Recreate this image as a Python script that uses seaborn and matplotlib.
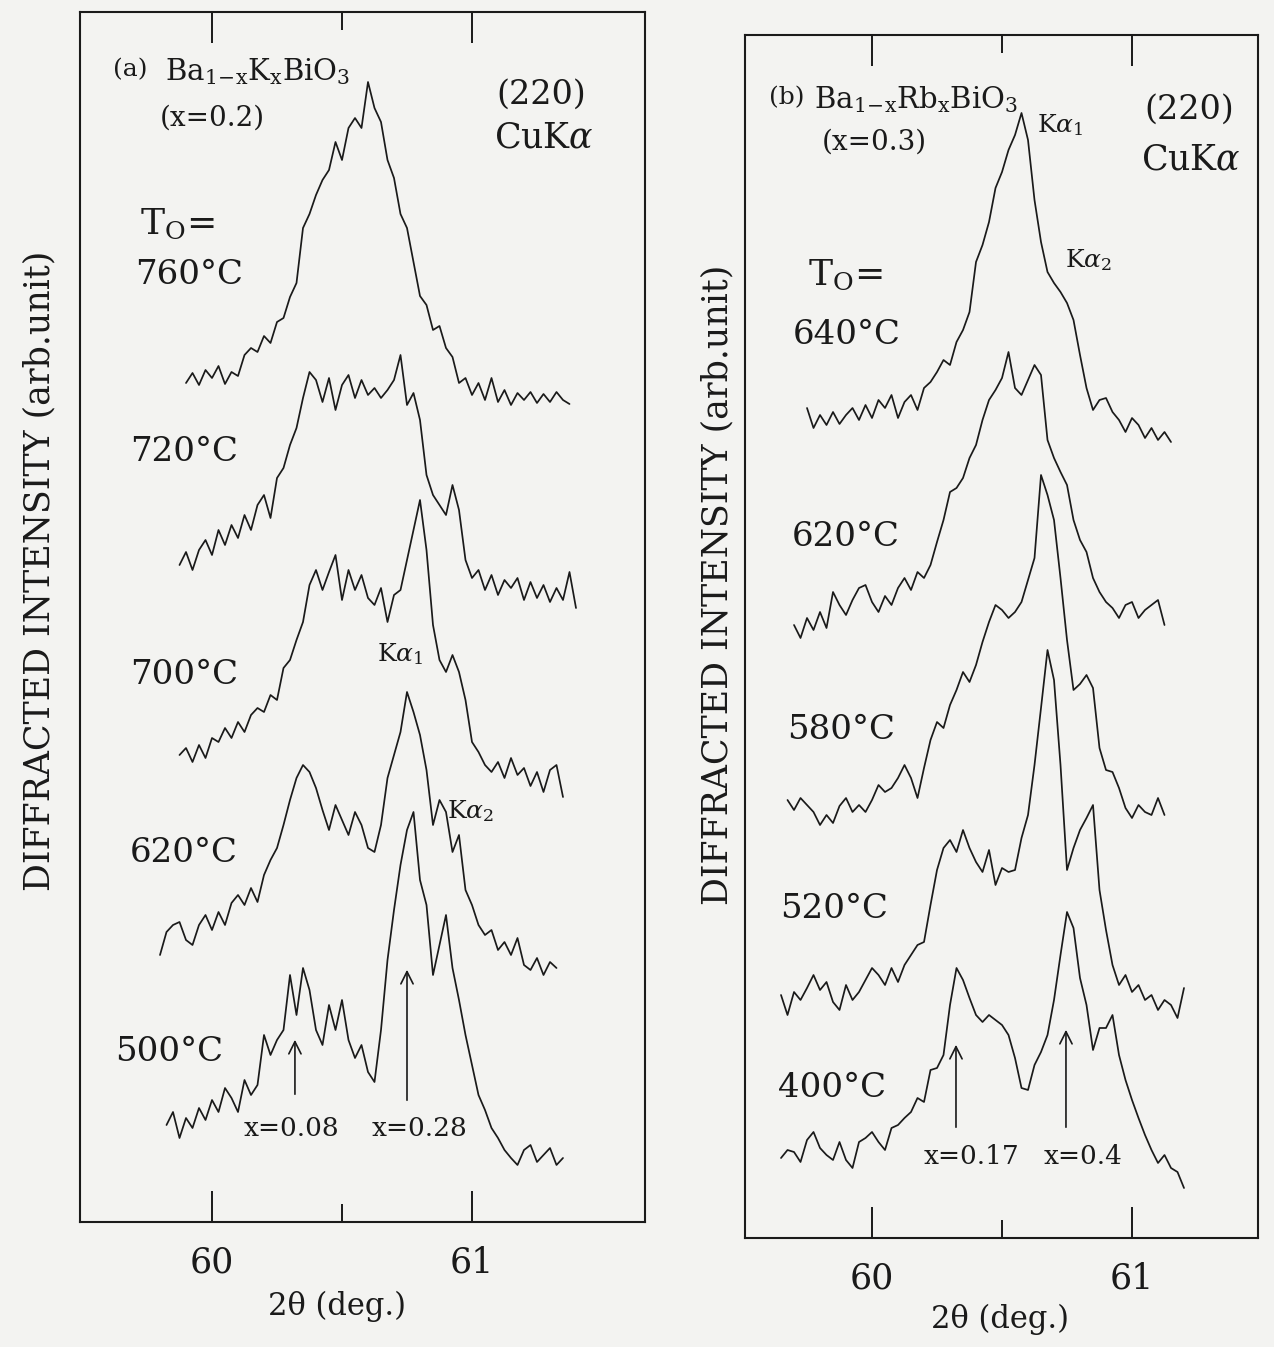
import numpy as np
import pandas as pd
import matplotlib
matplotlib.use("Agg")
import matplotlib.pyplot as plt
import seaborn as sns

nan = np.nan

# ---------------- data ----------------
# 2-theta sampling grid of panel (a), deg.
TWO_THETA_A = [59.800, 59.825, 59.850, 59.875, 59.900, 59.925, 59.950, 59.975,
               60.000, 60.025, 60.050, 60.075, 60.100, 60.125, 60.150, 60.175,
               60.200, 60.225, 60.250, 60.275, 60.300, 60.325, 60.350, 60.375,
               60.400, 60.425, 60.450, 60.475, 60.500, 60.525, 60.550, 60.575,
               60.600, 60.625, 60.650, 60.675, 60.700, 60.725, 60.750, 60.775,
               60.800, 60.825, 60.850, 60.875, 60.900, 60.925, 60.950, 60.975,
               61.000, 61.025, 61.050, 61.075, 61.100, 61.125, 61.150, 61.175,
               61.200, 61.225, 61.250, 61.275, 61.300, 61.325, 61.350, 61.375,
               61.400]

# stacked intensities (arb. unit) of Ba1-xKxBiO3, panel (a)
A_760 = [nan, nan, nan, nan,
         839, 849, 837, 852, 844, 856, 838, 850, 846, 867,
         874, 870, 886, 879, 900, 904, 925, 939, 994, 1008,
         1027, 1042, 1052, 1080, 1062, 1094, 1104, 1094, 1140, 1114,
         1100, 1062, 1044, 1008, 994, 960, 926, 917, 892, 896,
         874, 865, 839, 844, 827, 839, 822, 844, 820, 832,
         817, 829, 822, 830, 819, 828, 820, 830, 822, 818,
         nan]
A_720 = [nan, nan, nan,
         657, 670, 652, 672, 682, 667, 692, 677, 697, 684,
         707, 692, 717, 727, 704, 744, 754, 777, 794, 824,
         850, 842, 820, 844, 812, 837, 847, 824, 842, 827,
         834, 824, 832, 842, 867, 817, 829, 802, 747, 727,
         717, 707, 737, 712, 662, 644, 652, 632, 647, 627,
         642, 634, 644, 622, 640, 624, 637, 620, 634, 622,
         650, 614]
A_700 = [nan, nan, nan,
         467, 474, 460, 477, 464, 484, 480, 494, 484, 500,
         490, 507, 514, 510, 527, 522, 554, 562, 582, 600,
         637, 652, 632, 650, 667, 622, 652, 632, 647, 624,
         617, 634, 600, 627, 632, 662, 692, 722, 672, 597,
         562, 550, 567, 550, 522, 480, 470, 457, 450, 460,
         444, 464, 447, 454, 436, 450, 430, 452, 457, 425,
         nan, nan]
A_620 = [267, 290, 297, 300, 282, 277, 297, 307, 292, 310,
         297, 319, 327, 317, 334, 320, 347, 362, 374, 397,
         422, 444, 457, 450, 434, 412, 392, 417, 402, 387,
         410, 397, 374, 370, 397, 444, 467, 490, 530, 510,
         487, 452, 397, 422, 410, 370, 387, 332, 317, 297,
         287, 292, 272, 280, 267, 284, 257, 252, 264, 247,
         260, 254,
         nan, nan, nan]
A_500 = [nan,
         97, 110, 84, 104, 94, 114, 102, 122, 110, 134,
         124, 110, 142, 127, 137, 187, 167, 182, 192, 247,
         207, 254, 232, 192, 177, 217, 192, 222, 182, 164,
         177, 150, 140, 192, 262, 312, 357, 392, 410, 342,
         317, 247, 277, 307, 254, 222, 187, 157, 127, 112,
         94, 84, 72, 64, 57, 72, 77, 60, 67, 74,
         57, 64,
         nan, nan]
CURVES_A = {"760": A_760, "720": A_720, "700": A_700, "620": A_620, "500": A_500}

# 2-theta sampling grid of panel (b), deg.
TWO_THETA_B = [59.625, 59.650, 59.675, 59.700, 59.725, 59.750, 59.775, 59.800,
               59.825, 59.850, 59.875, 59.900, 59.925, 59.950, 59.975, 60.000,
               60.025, 60.050, 60.075, 60.100, 60.125, 60.150, 60.175, 60.200,
               60.225, 60.250, 60.275, 60.300, 60.325, 60.350, 60.375, 60.400,
               60.425, 60.450, 60.475, 60.500, 60.525, 60.550, 60.575, 60.600,
               60.625, 60.650, 60.675, 60.700, 60.725, 60.750, 60.775, 60.800,
               60.825, 60.850, 60.875, 60.900, 60.925, 60.950, 60.975, 61.000,
               61.025, 61.050, 61.075, 61.100, 61.125, 61.150, 61.175, 61.200]

# stacked intensities (arb. unit) of Ba1-xRbxBiO3, panel (b)
B_640 = [nan, nan, nan, nan, nan,
         830, 810, 823, 813, 826, 814, 823, 830, 818, 833,
         820, 838, 830, 843, 820, 836, 843, 828, 850, 856,
         866, 878, 873, 896, 908, 926, 976, 993, 1016, 1050,
         1066, 1088, 1103, 1125, 1098, 1038, 996, 966, 955, 946,
         935, 918, 883, 850, 828, 838, 840, 826, 818, 806,
         820, 813, 800, 810, 798, 806, 796,
         nan, nan]
B_620 = [nan, nan, nan,
         613, 600, 620, 608, 626, 610, 646, 633, 623, 638,
         650, 653, 636, 626, 642, 633, 650, 660, 648, 666,
         660, 673, 696, 718, 746, 750, 760, 780, 793, 818,
         838, 848, 860, 886, 850, 843, 858, 873, 863, 798,
         780, 766, 753, 718, 698, 686, 660, 646, 636, 630,
         620, 633, 636, 620, 628, 633, 638, 613,
         nan, nan, nan]
B_580 = [nan, nan,
         438, 428, 440, 433, 426, 413, 423, 415, 432, 440,
         426, 433, 426, 438, 453, 446, 450, 460, 473, 460,
         440, 470, 498, 516, 510, 533, 548, 566, 556, 573,
         596, 616, 633, 628, 620, 626, 636, 658, 680, 763,
         743, 718, 660, 598, 548, 554, 563, 550, 490, 468,
         466, 450, 430, 420, 433, 426, 423, 440, 423,
         nan, nan, nan]
B_520 = [nan,
         243, 223, 246, 238, 250, 263, 248, 256, 236, 228,
         253, 238, 246, 258, 270, 263, 253, 270, 256, 273,
         283, 293, 296, 333, 368, 390, 398, 386, 408, 390,
         376, 366, 388, 353, 370, 366, 368, 400, 423, 473,
         530, 588, 558, 473, 368, 390, 408, 420, 433, 348,
         308, 273, 253, 263, 246, 253, 238, 243, 228, 238,
         233, 220, 250]
B_400 = [nan,
         80, 88, 86, 76, 98, 106, 90, 83, 78, 96,
         78, 70, 96, 100, 106, 96, 88, 110, 113, 120,
         126, 140, 136, 168, 170, 183, 233, 270, 258, 240,
         223, 216, 223, 218, 213, 203, 180, 150, 148, 173,
         186, 203, 238, 283, 326, 310, 260, 233, 188, 210,
         210, 223, 183, 158, 138, 120, 103, 88, 75, 83,
         70, 66, 50]
CURVES_B = {"640": B_640, "620": B_620, "580": B_580, "520": B_520, "400": B_400}

X_TICKS = [60, 61]
X_TICK_LABELS = ["60", "61"]
X_MINOR = [60.5]

# arrows: (2theta, tail intensity, head intensity, label)
ARROWS_A = [(60.319, 125, 185, "x=0.08"), (60.750, 119, 255, "x=0.28")]
ARROWS_B = [(60.323, 108, 196, "x=0.17"), (60.746, 108, 211, "x=0.4")]

# ---------------- style ----------------
sns.set_theme(style="white")
plt.rcParams["font.family"] = ["DejaVu Serif", "DejaVu Sans"]
plt.rcParams["mathtext.fontset"] = "dejavuserif"

BG = "#f3f3f1"
INK = "#1a1a1a"
W, H = 1274, 1347

fig = plt.figure(figsize=(W / 100, H / 100), dpi=100)
fig.patch.set_facecolor(BG)


def px_axes(l, t, r, b):
    return fig.add_axes([l / W, 1 - b / H, (r - l) / W, (b - t) / H])


def ftext(px, py, s, size, ha="left", va="center"):
    fig.text(px / W, 1 - py / H, s, fontsize=size, ha=ha, va=va, color=INK)


def long_frame(grid, curves):
    rows = []
    for name, vals in curves.items():
        for t, v in zip(grid, vals):
            if not np.isnan(v):
                rows.append((name, t, v))
    return pd.DataFrame(rows, columns=["curve", "two_theta", "intensity"])


axA = px_axes(80, 12, 645, 1222)
axB = px_axes(745, 35, 1258, 1238)

panels = [
    (axA, TWO_THETA_A, CURVES_A, (59.4923, 61.6654), (0, 1210), ARROWS_A),
    (axB, TWO_THETA_B, CURVES_B, (59.5115, 61.4846), (0, 1203), ARROWS_B),
]

for ax, grid, curves, xl, yl, arrows in panels:
    ax.set_facecolor(BG)
    df = long_frame(grid, curves)
    sns.lineplot(data=df, x="two_theta", y="intensity", units="curve",
                 estimator=None, sort=False, color=INK, linewidth=1.25,
                 legend=False, ax=ax)
    ax.set_xlim(*xl)
    ax.set_ylim(*yl)
    ax.set_yticks([])
    ax.set_xticks(X_TICKS)
    ax.set_xticklabels(X_TICK_LABELS)
    ax.set_xticks(X_MINOR, minor=True)
    ax.tick_params(axis="x", which="both", direction="in", top=True,
                   bottom=True, color=INK, width=1.4, labelsize=25,
                   pad=17, labelcolor=INK)
    ax.tick_params(axis="x", which="major", length=22)
    ax.tick_params(axis="x", which="minor", length=13)
    for sp in ax.spines.values():
        sp.set_color(INK)
        sp.set_linewidth(1.5)
    for t2, y0, y1, lab in arrows:
        ax.annotate("", xy=(t2, y1), xytext=(t2, y0),
                    arrowprops=dict(arrowstyle="->", color=INK, lw=1.2,
                                    mutation_scale=22))
    ax.set_xlabel("2θ (deg.)", fontsize=22, color=INK)
    ax.set_ylabel("DIFFRACTED INTENSITY (arb.unit)", fontsize=25, color=INK)
    ax.xaxis.label.set_va("center")
    ax.yaxis.label.set_va("center")

axA.xaxis.set_label_coords(0.455, -0.070)
axB.xaxis.set_label_coords(0.497, -0.068)
axA.yaxis.set_label_coords(-0.071, 0.538)
axB.yaxis.set_label_coords(-0.053, 0.543)

# ---------------- annotations ----------------
# panel (a)
ftext(113, 70, "(a)", 18)
ftext(165, 80, r"$\mathrm{Ba_{1\!-\!x}K_{x}BiO_{3}}$", 21, va="baseline")
ftext(160, 118, "(x=0.2)", 20)
ftext(496, 95, "(220)", 24)
ftext(494, 138, r"CuK$\alpha$", 25)
ftext(140, 224, r"T$_{\mathrm{O}}$=", 26)
ftext(135, 275, "760°C", 24.5)
ftext(130, 452, "720°C", 24.5)
ftext(130, 675, "700°C", 24.5)
ftext(130, 853, "620°C", 24.5)
ftext(115, 1052, "500°C", 24.5)
ftext(377, 654, r"K$\alpha_1$", 18)
ftext(447, 811, r"K$\alpha_2$", 18)
ftext(291, 1128, ARROWS_A[0][3], 19, ha="center")
ftext(419, 1128, ARROWS_A[1][3], 19, ha="center")

# panel (b)
ftext(769, 98, "(b)", 18)
ftext(814, 108, r"$\mathrm{Ba_{1\!-\!x}Rb_{x}BiO_{3}}$", 21, va="baseline")
ftext(822, 142, "(x=0.3)", 20)
ftext(1037, 125, r"K$\alpha_1$", 18)
ftext(1144, 110, "(220)", 24)
ftext(1141, 160, r"CuK$\alpha$", 25)
ftext(808, 275, r"T$_{\mathrm{O}}$=", 26)
ftext(793, 335, "640°C", 24.5)
ftext(1065, 260, r"K$\alpha_2$", 18)
ftext(792, 537, "620°C", 24.5)
ftext(787, 730, "580°C", 24.5)
ftext(780, 909, "520°C", 24.5)
ftext(778, 1088, "400°C", 24.5)
ftext(972, 1157, ARROWS_B[0][3], 19, ha="center")
ftext(1083, 1157, ARROWS_B[1][3], 19, ha="center")

fig.savefig("out.png", dpi=100, facecolor=BG)
